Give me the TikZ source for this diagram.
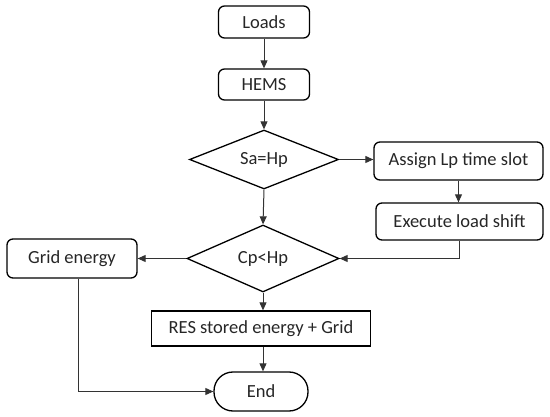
\documentclass[tikz,border=0pt]{standalone}
\usepackage{fontspec}
\setmainfont{Carlito}
\usetikzlibrary{shapes.geometric,arrows.meta}
\begin{document}
\begin{tikzpicture}[x=1pt,y=-1pt,
  every node/.style={font=\fontsize{18.5}{22}\selectfont, text=black!85, inner sep=0pt},
  rbox/.style={draw=black, line width=1.3pt, rounded corners=6pt, align=center},
  sbox/.style={draw=black, line width=1.3pt, align=center},
  dbox/.style={draw=black, line width=1.3pt, diamond, aspect=2.5},
  conn/.style={draw=black!80, line width=1pt, -{Triangle[length=8pt,width=7pt]}},
  line/.style={draw=black!80, line width=1pt}]
\useasboundingbox (0,0) rectangle (550,417);
\node[rbox, minimum width=91pt, minimum height=32pt] (loads) at (264,22) {Loads};
\node[rbox, minimum width=91pt, minimum height=31pt] (hems) at (264,84.5) {HEMS};
\node[dbox, minimum width=149pt, minimum height=59pt] (sa) at (264,159.5) {Sa=Hp};
\node[rbox, minimum width=169pt, minimum height=38pt] (assign) at (458.5,161) {Assign Lp time slot};
\node[rbox, minimum width=167pt, minimum height=37pt] (exec) at (459.5,221.5) {Execute load shift};
\node[dbox, minimum width=152pt, minimum height=67pt] (cp) at (263,258.5) {Cp<Hp};
\node[rbox, minimum width=130pt, minimum height=39pt] (grid) at (72,258.5) {Grid energy};
\node[sbox, minimum width=219pt, minimum height=35pt] (res) at (261,328.5) {RES stored energy + Grid};
\node[rbox, rounded corners=19pt, minimum width=94pt, minimum height=39pt] (end) at (261,391.5) {End};
\draw[conn] (loads.south) -- (loads.south |- hems.north);
\draw[conn] (hems.south) -- (hems.south |- sa.north);
\draw[conn] (sa.east) -- (sa.east -| assign.west);
\draw[conn] (assign.south) -- (assign.south |- exec.north);
\draw[conn] (sa.south) -- (cp.north);
\draw[conn] (exec.south) |- (cp.east);
\draw[conn] (cp.west) -- (cp.west -| grid.east);
\draw[conn] (cp.south) -- (cp.south |- res.north);
\draw[conn] (res.south -| cp.south) -- (cp.south |- end.north);
\coordinate (gb) at ([xshift=6pt]grid.south);
\draw[conn] (gb) |- (end.west);
\end{tikzpicture}
\end{document}
